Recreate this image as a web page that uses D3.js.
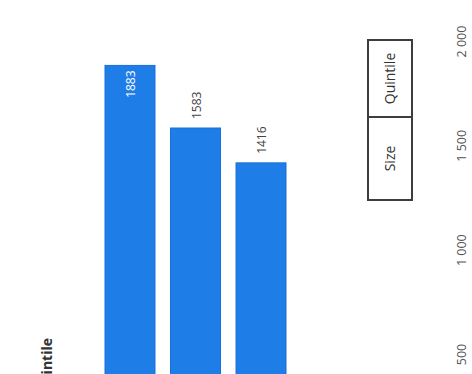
<!DOCTYPE html>
<html>
<head>
<meta charset="utf-8">
<script src="https://cdn.jsdelivr.net/npm/d3@7"></script>
<style>
  html, body { margin: 0; padding: 0; background: #ffffff; }
  svg { display: block; font-family: "Open Sans", "Noto Sans", sans-serif; }
</style>
</head>
<body>
<svg id="chart" width="472" height="374"></svg>
<script>
// ---- data ----
const categories = ["Q1", "Q2", "Q3"];
const values = [1883, 1583, 1416];
const tickValues = [500, 1000, 1500, 2000];
const legendItems = ["Quintile", "Size"];
const axisTitle = "Quintile";

const svg = d3.select("#chart");

const locale = d3.formatLocale({ decimal: ",", thousands: " ", grouping: [3], currency: ["", ""] });
const fmt = locale.format(",d");

// value scale runs bottom -> top (chart is drawn rotated)
const y = d3.scaleLinear().domain([500, 2000]).range([354, 41]);
const x = d3.scaleBand().domain(categories).range([105, 286]).paddingInner(0.237).paddingOuter(0);

const barColor = "#1f7de8";

// bars
svg.append("g").selectAll("rect")
  .data(values)
  .join("rect")
  .attr("x", (d, i) => x(categories[i]))
  .attr("y", d => y(d))
  .attr("width", x.bandwidth())
  .attr("height", d => y(0) - y(d))
  .attr("fill", barColor)
  .attr("stroke", "#1a6fd6")
  .attr("stroke-width", 1);

// value labels (rotated -90)
svg.append("g").selectAll("text")
  .data(values)
  .join("text")
  .attr("transform", (d, i) => {
    const cx = x(categories[i]) + x.bandwidth() / 2 + 1;
    const yy = i === 0 ? y(d) + 5 : y(d) - 9;
    return `translate(${cx},${yy}) rotate(-90)`;
  })
  .attr("text-anchor", (d, i) => i === 0 ? "end" : "start")
  .attr("dy", "0.35em")
  .attr("font-size", 12)
  .attr("fill", (d, i) => i === 0 ? "#ffffff" : "#444444")
  .text(d => d);

// value axis on the right (tick labels only)
const axis = d3.axisRight(y).tickValues(tickValues).tickFormat(fmt).tickSize(0);
const ag = svg.append("g").attr("transform", "translate(458,0)").call(axis);
ag.select(".domain").remove();
ag.selectAll("text")
  .attr("x", null).attr("y", null).attr("dy", "0.35em")
  .attr("transform", "translate(4,0) rotate(-90)")
  .attr("text-anchor", "middle")
  .attr("font-size", 12.5)
  .attr("fill", "#555555")
  .attr("font-family", "'Open Sans', sans-serif");

// legend box
const lg = svg.append("g");
const boxX = 368, boxW = 44;
const cells = [[40, 117], [117, 200]];
cells.forEach((c, i) => {
  lg.append("rect")
    .attr("x", boxX).attr("y", c[0])
    .attr("width", boxW).attr("height", c[1] - c[0])
    .attr("fill", "none").attr("stroke", "#3d3d3d").attr("stroke-width", 2);
  lg.append("text")
    .attr("transform", `translate(${boxX + boxW / 2},${(c[0] + c[1]) / 2}) rotate(-90)`)
    .attr("text-anchor", "middle").attr("dy", "0.35em")
    .attr("font-size", 14).attr("fill", "#333333")
    .text(legendItems[i]);
});

// partial axis title at left
svg.append("text")
  .attr("transform", `translate(47,338) rotate(-90)`)
  .attr("text-anchor", "end").attr("dy", "0.35em")
  .attr("font-size", 14).attr("font-weight", "bold").attr("fill", "#333333")
  .text(axisTitle);
</script>
</body>
</html>
